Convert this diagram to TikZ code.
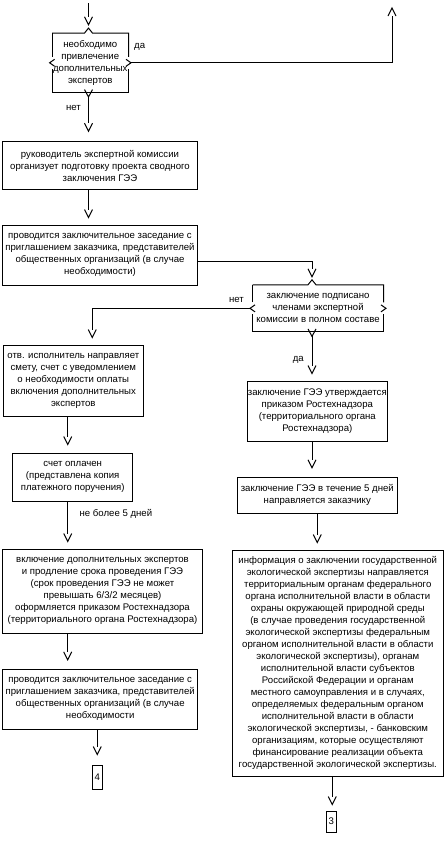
\documentclass[tikz,border=0pt]{standalone}
\usepackage{fontspec}
\setmainfont{Liberation Sans}
\usetikzlibrary{arrows.meta,calc}
\pgfdeclarearrow{
  name = Vtip,
  setup code = {
    \pgfarrowssettipend{0pt}
    \pgfarrowssetlineend{-8pt}
    \pgfarrowssetbackend{-8pt}
    \pgfarrowshullpoint{0pt}{0pt}
    \pgfarrowshullpoint{-8pt}{4pt}
    \pgfarrowshullpoint{-8pt}{-4pt}
  },
  drawing code = {
    \pgfsetdash{}{0pt}
    \pgfpathmoveto{\pgfqpoint{-8pt}{4pt}}
    \pgfpathlineto{\pgfqpoint{0pt}{0pt}}
    \pgfpathlineto{\pgfqpoint{-8pt}{-4pt}}
    \pgfusepathqstroke
  },
  parameters = {},
}
\newcommand\txtfont{\fontsize{9.6}{12}\selectfont}
\tikzset{
  ln/.style={line width=1pt},
  box/.style={draw, line width=1pt, inner sep=0pt, align=center, font=\txtfont},
  dec/.style={inner sep=0pt, align=center, font=\txtfont},
  lbl/.style={inner sep=0pt, font=\txtfont},
  arr/.style={line width=1pt, -{Vtip}},
}
% decision frame: #1 node, #2 x offset of top caret / bottom V from centre
\newcommand\decframe[2]{%
  \draw[ln] (#1.north west) -- ([xshift={(#2-4)*1pt}]#1.north) -- ([xshift={#2*1pt},yshift=5pt]#1.north) -- ([xshift={(#2+4)*1pt}]#1.north) -- (#1.north east) -- ([yshift=6pt]#1.east);
  \draw[ln] ([yshift=3.5pt,xshift=-2.5pt]#1.east) -- ([xshift=2.5pt]#1.east) -- ([yshift=-3.5pt,xshift=-2.5pt]#1.east);
  \draw[ln] ([yshift=-6pt]#1.east) -- (#1.south east) -- (#1.south west) -- ([yshift=-6pt]#1.west);
  \draw[ln] ([yshift=3.5pt,xshift=2.5pt]#1.west) -- ([xshift=-2.5pt]#1.west) -- ([yshift=-3.5pt,xshift=2.5pt]#1.west);
  \draw[ln] ([yshift=6pt]#1.west) -- (#1.north west);
  \draw[ln] ([xshift={(#2-4)*1pt},yshift=3pt]#1.south) -- ([xshift={#2*1pt},yshift=-4.5pt]#1.south) -- ([xshift={(#2+4)*1pt},yshift=3pt]#1.south);
}
\begin{document}
\begin{tikzpicture}[x=1pt,y=-1pt]
\useasboundingbox (0,0) rectangle (445,841);
% column coordinates
\coordinate (cA) at (88.5,0);
\coordinate (top) at (88.5,3);
\coordinate (tr) at (392,8);
\coordinate (r1) at (0,261);
\coordinate (cR) at (312,0);
\coordinate (cL2) at (92.3,0);
\coordinate (cL) at (67.7,0);
\coordinate (cM) at (97.3,0);
\coordinate (cR2) at (317.3,0);
\coordinate (cR3) at (332.3,0);

% decisions
\node[dec, minimum width=76pt, minimum height=59pt] (d1) at (90.3,62.8)
  {необходимо\\привлечение\\дополнительных\\экспертов};
\decframe{d1}{-1.8}
\node[dec, minimum width=130.6pt, minimum height=46.7pt] (d2) at (318,308.35)
  {заключение подписано\\членами экспертной\\комиссии в полном составе};
\decframe{d2}{-6}

% boxes
\node[box, minimum width=194.6pt, minimum height=47.6pt] (b2) at (100,165.5)
  {руководитель экспертной комиссии\\организует подготовку проекта сводного\\заключения ГЭЭ};
\node[box, minimum width=194.6pt, minimum height=59.3pt] (b3) at (100,255.35)
  {проводится заключительное заседание с\\приглашением заказчика, представителей\\общественных организаций (в случае\\необходимости)};
\node[box, minimum width=140pt, minimum height=71pt] (b4) at (73.3,381.2)
  {отв. исполнитель направляет\\смету, счет с уведомлением\\о необходимости оплаты\\включения дополнительных\\экспертов};
\node[box, minimum width=140pt, minimum height=59.3pt] (b5) at (317.3,411.35)
  {заключение ГЭЭ утверждается\\приказом Ростехнадзора\\(территориального органа\\Ростехнадзора)};
\node[box, minimum width=120pt, minimum height=47.7pt] (b6) at (72.7,477.15)
  {счет оплачен\\(представлена копия\\платежного поручения)};
\node[box, minimum width=160pt, minimum height=35.7pt] (b7) at (317.3,495.15)
  {заключение ГЭЭ в течение 5 дней\\направляется заказчику};
\node[box, minimum width=199.6pt, minimum height=84.3pt] (b8) at (102.5,591.15)
  {включение дополнительных экспертов\\и продление срока проведения ГЭЭ\\(срок проведения ГЭЭ не может\\превышать 6/3/2 месяцев)\\оформляется приказом Ростехнадзора\\(территориального органа Ростехнадзора)};
\node[box, minimum width=195pt, minimum height=60pt] (b9) at (100.2,699.3)
  {проводится заключительное заседание с\\приглашением заказчика, представителей\\общественных организаций (в случае\\необходимости};
\node[box, minimum width=211pt, minimum height=226.7pt] (b10) at (337.8,663.35)
  {информация о заключении государственной\\экологической экспертизы направляется\\территориальным органам федерального\\органа исполнительной власти в области\\охраны окружающей природной среды\\(в случае проведения государственной\\экологической экспертизы федеральным\\органом исполнительной власти в области\\экологической экспертизы), органам\\исполнительной власти субъектов\\Российской Федерации и органам\\местного самоуправления и в случаях,\\определяемых федеральным органом\\исполнительной власти в области\\экологической экспертизы, - банковским\\организациям, которые осуществляют\\финансирование реализации объекта\\государственной экологической экспертизы.};
\node[box, minimum width=10pt, minimum height=24.3pt] (k4) at (97.3,777.15) {4};
\node[box, minimum width=10.7pt, minimum height=21.3pt] (k3) at (331.35,821.65) {3};

% labels
\node[lbl, anchor=west] (l1) at (134,46.7) {да};
\node[lbl, anchor=east] (l2) at (81,108) {нет};
\node[lbl, anchor=east] (l3) at (244,300) {нет};
\node[lbl, anchor=east] (l4) at (304,360) {да};
\node[lbl, anchor=west] (l5) at (79.5,514.3) {не более 5 дней};

% connectors
\draw[arr, shorten >=8.3pt] (top) -- (d1.north -| cA);
\draw[arr] ([xshift=2.5pt]d1.east) -| (tr);
\draw[arr, shorten >=10pt] (d1.south -| cA) ++(0,4.5) -- (b2.north -| cA);
\draw[arr, shorten >=7.7pt] (b2.south -| cA) -- (b3.north -| cA);
\draw[arr, shorten >=8pt] (b3.east |- r1) -| (d2.north -| cR);
\draw[arr, shorten >=7.7pt] ([xshift=-2.5pt]d2.west) -| (b4.north -| cL2);
\draw[arr, shorten >=7.7pt] (d2.south -| cR) ++(0,4.5) -- (b5.north -| cR);
\draw[arr, shorten >=8.3pt] (b4.south -| cL) -- (b6.north -| cL);
\draw[arr, shorten >=7pt] (b6.south -| cL) -- (b8.north -| cL);
\draw[arr, shorten >=9pt] (b8.south -| cL) -- (b9.north -| cL);
\draw[arr, shorten >=10pt] (b9.south -| cM) -- (k4.north -| cM);
\draw[arr, shorten >=9pt] (b5.south -| cR) -- (b7.north -| cR);
\draw[arr, shorten >=7pt] (b7.south -| cR2) -- (b10.north -| cR2);
\draw[arr, shorten >=6pt] (b10.south -| cR3) -- (k3.north -| cR3);
\end{tikzpicture}
\end{document}
